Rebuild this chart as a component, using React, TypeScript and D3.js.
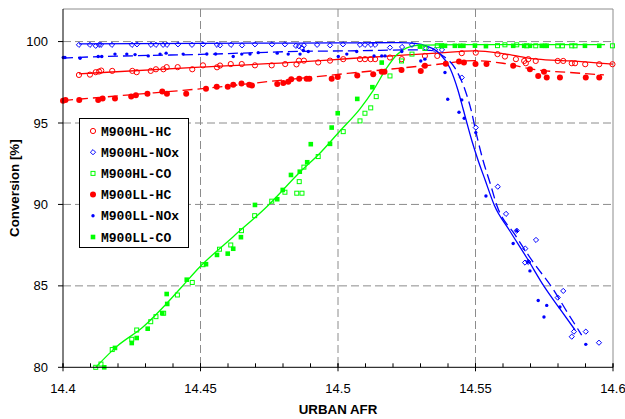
import React from "react";
import * as d3 from "d3";

// Conversion efficiency vs. urban air/fuel ratio for two M900 catalyst variants.
// Each series is a list of [AFR, conversion %] measurements.

const hlHc: [number, number][] = [
  [14.4058, 97.95], [14.4098, 97.97], [14.4119, 98.12], [14.4131, 98.16], [14.4139, 98.22],
  [14.4179, 98.2], [14.4252, 98.2], [14.4268, 98.12], [14.4319, 98.2], [14.4338, 98.3],
  [14.4365, 98.3], [14.4377, 98.43], [14.4417, 98.43], [14.447, 98.3], [14.4509, 98.54],
  [14.456, 98.42], [14.4571, 98.53], [14.461, 98.62], [14.465, 98.62], [14.4698, 98.54],
  [14.4759, 98.54], [14.4808, 98.62], [14.4849, 98.6], [14.4858, 98.83], [14.4876, 98.83],
  [14.4928, 98.72], [14.4971, 98.83], [14.5019, 98.92], [14.508, 98.92], [14.5098, 98.92],
  [14.5119, 98.92], [14.5135, 98.92], [14.5189, 99.02], [14.5232, 98.92], [14.5316, 99.12],
  [14.5361, 99.12], [14.545, 99.29], [14.5501, 99.32], [14.558, 99.23], [14.5607, 99.08],
  [14.5647, 98.92], [14.5677, 98.81], [14.5683, 98.67], [14.5692, 98.92], [14.5719, 98.81],
  [14.5799, 98.81], [14.5819, 98.81], [14.585, 98.67], [14.5862, 98.67], [14.5899, 98.61],
  [14.595, 98.61], [14.5998, 98.61],
];

const hlNox: [number, number][] = [
  [14.4058, 99.8], [14.4098, 99.8], [14.4119, 99.74], [14.4131, 99.8], [14.4138, 99.8],
  [14.4178, 99.8], [14.4251, 99.8], [14.4269, 99.83], [14.432, 99.8], [14.4338, 99.8],
  [14.4364, 99.8], [14.4378, 99.8], [14.4418, 99.83], [14.4469, 99.8], [14.4509, 99.83],
  [14.456, 99.8], [14.4571, 99.77], [14.4611, 99.8], [14.4651, 99.77], [14.4698, 99.83],
  [14.476, 99.83], [14.4807, 99.83], [14.4847, 99.74], [14.4858, 99.71], [14.4869, 99.61],
  [14.4876, 99.77], [14.4924, 99.8], [14.4971, 99.77], [14.5018, 99.83], [14.508, 99.8],
  [14.5098, 99.8], [14.512, 99.8], [14.5135, 99.8], [14.5189, 99.63], [14.5233, 99.67],
  [14.5269, 99.8], [14.532, 99.59], [14.5353, 99.49], [14.5378, 99.49], [14.545, 97.79],
  [14.5501, 94.72], [14.5581, 91.09], [14.5611, 89.42], [14.565, 88.39], [14.5681, 87.29],
  [14.572, 87.82], [14.568, 86.43], [14.5692, 86.47], [14.5799, 84.28], [14.5819, 84.69],
  [14.5858, 82.19], [14.585, 81.88], [14.5901, 82.19], [14.5949, 81.51],
];

const hlCo: [number, number][] = [
  [14.4119, 80.0], [14.4138, 80.2], [14.4179, 81.09], [14.425, 81.72], [14.4268, 82.29],
  [14.4319, 82.8], [14.4338, 83.11], [14.4366, 83.32], [14.4416, 84.44], [14.447, 85.21],
  [14.4509, 86.3], [14.4569, 87.25], [14.461, 87.51], [14.4649, 88.39], [14.4697, 89.31],
  [14.4759, 90.2], [14.4807, 90.75], [14.485, 90.69], [14.4859, 91.4], [14.4869, 90.69],
  [14.4876, 92.29], [14.4928, 92.94], [14.5019, 94.47], [14.508, 95.13], [14.5098, 95.6],
  [14.5119, 95.93], [14.5139, 96.62], [14.5189, 97.89], [14.5231, 98.81], [14.5269, 99.23],
  [14.5316, 99.58], [14.5361, 99.75], [14.5377, 99.74], [14.558, 99.75], [14.5607, 99.8],
  [14.565, 99.8], [14.5686, 99.74], [14.5719, 99.74], [14.5799, 99.74], [14.5816, 99.74],
  [14.585, 99.74], [14.5862, 99.74], [14.5998, 99.74],
];

const llHc: [number, number][] = [
  [14.4, 96.36], [14.4009, 96.42], [14.4059, 96.42], [14.4128, 96.42], [14.4144, 96.5],
  [14.4189, 96.51], [14.4248, 96.62], [14.4265, 96.7], [14.4307, 96.79], [14.4361, 96.93],
  [14.4378, 96.8], [14.4448, 96.8], [14.452, 97.11], [14.4559, 97.22], [14.4599, 97.23],
  [14.4619, 97.35], [14.4649, 97.43], [14.4677, 97.35], [14.4687, 97.3], [14.4779, 97.4],
  [14.4801, 97.46], [14.4819, 97.54], [14.483, 97.68], [14.4859, 97.71], [14.4886, 97.71],
  [14.4896, 97.71], [14.4977, 97.71], [14.4999, 97.83], [14.507, 97.91], [14.5128, 97.99],
  [14.5159, 98.14], [14.5169, 98.14], [14.5231, 98.26], [14.5301, 98.2], [14.5316, 98.51],
  [14.5392, 98.64], [14.544, 98.77], [14.5458, 98.72], [14.55, 98.62], [14.554, 98.62],
  [14.5637, 98.51], [14.5698, 98.3], [14.5728, 97.89], [14.5749, 98.14], [14.5759, 97.8],
  [14.5807, 97.8], [14.5901, 97.8], [14.595, 97.8],
];

const llNox: [number, number][] = [
  [14.4001, 99.02], [14.4007, 99.02], [14.4062, 98.98], [14.4128, 99.08], [14.4141, 99.08],
  [14.4189, 99.23], [14.4232, 99.23], [14.4262, 99.2], [14.431, 99.12], [14.4353, 99.23],
  [14.4375, 99.29], [14.4437, 99.23], [14.4523, 99.24], [14.4555, 99.24], [14.4619, 99.08],
  [14.465, 99.23], [14.468, 99.24], [14.471, 99.32], [14.4779, 99.29], [14.4819, 99.23],
  [14.4862, 99.23], [14.4874, 99.45], [14.4892, 99.39], [14.5001, 99.08], [14.5032, 99.23],
  [14.5068, 99.39], [14.5131, 99.12], [14.5159, 99.12], [14.5171, 99.12], [14.5232, 99.39],
  [14.5301, 98.81], [14.5316, 98.92], [14.5389, 98.1], [14.5399, 96.46], [14.544, 95.66],
  [14.545, 96.42], [14.5459, 95.29], [14.5501, 94.41], [14.5538, 90.52], [14.5637, 87.6],
  [14.565, 88.39], [14.569, 86.47], [14.5698, 85.92], [14.5728, 84.1], [14.5759, 83.8],
  [14.5749, 83.09], [14.5807, 83.7], [14.5901, 81.41],
];

const llCo: [number, number][] = [
  [14.415, 80.0], [14.4189, 81.19], [14.425, 81.49], [14.4268, 81.8], [14.4308, 82.37],
  [14.4361, 83.32], [14.4377, 84.5], [14.4379, 83.89], [14.445, 85.38], [14.452, 86.33],
  [14.456, 86.9], [14.4599, 86.98], [14.4619, 87.28], [14.4647, 87.99], [14.4698, 89.97],
  [14.4779, 90.32], [14.4799, 90.89], [14.4829, 91.81], [14.4861, 92.01], [14.4888, 92.59],
  [14.4901, 93.7], [14.4971, 93.72], [14.4977, 94.72], [14.4999, 95.6], [14.507, 96.48],
  [14.5125, 97.2], [14.5159, 98.71], [14.5298, 99.69], [14.5377, 99.74], [14.5389, 99.74],
  [14.5425, 99.74], [14.5444, 99.74], [14.5456, 99.74], [14.5498, 99.75], [14.5538, 99.72],
  [14.5637, 99.74], [14.5677, 99.74], [14.5698, 99.74], [14.5741, 99.74], [14.5753, 99.74],
  [14.5759, 99.74], [14.5898, 99.74], [14.595, 99.74],
];

// Fitted trend curves
const hlHcFit: [number, number][] = [
  [14.4058, 98.02], [14.4498, 98.43], [14.4862, 98.75], [14.5044, 98.96], [14.525, 99.18],
  [14.5371, 99.31], [14.5498, 99.43], [14.5589, 99.29], [14.5662, 99.08], [14.5724, 98.92],
  [14.5844, 98.81], [14.6, 98.61],
];

const llHcFit: [number, number][] = [
  [14.4, 96.38], [14.4244, 96.73], [14.4535, 97.16], [14.4789, 97.62], [14.5044, 98.06],
  [14.5345, 98.57], [14.5498, 98.83], [14.56, 98.67], [14.5724, 98.26], [14.5844, 98.1],
  [14.5967, 97.95],
];

const hlNoxFit: [number, number][] = [
  [14.4058, 99.86], [14.4498, 99.89], [14.4862, 99.91], [14.508, 99.92], [14.5225, 99.94],
  [14.528, 99.89], [14.5324, 99.71], [14.5371, 99.24], [14.5407, 98.38], [14.5436, 97.03],
  [14.5456, 95.8], [14.5486, 93.96], [14.5509, 92.73], [14.5535, 91.5], [14.5568, 89.97],
  [14.5625, 88.37], [14.5687, 86.71], [14.575, 84.95], [14.5807, 83.58], [14.5862, 82.29],
];

const llNoxFit: [number, number][] = [
  [14.4, 98.98], [14.4058, 99.03], [14.4316, 99.15], [14.4498, 99.21], [14.468, 99.31],
  [14.4862, 99.4], [14.5044, 99.43], [14.5153, 99.46], [14.5262, 99.49], [14.5335, 99.46],
  [14.5382, 99.12], [14.5425, 98.38], [14.5462, 97.03], [14.5484, 95.8], [14.5504, 94.27],
  [14.5527, 92.73], [14.5553, 91.32], [14.5577, 89.97], [14.5644, 88.13], [14.5709, 86.47],
  [14.5777, 84.93], [14.5833, 83.4], [14.5886, 81.98],
];

const coFit: [number, number][] = [
  [14.4119, 80.0], [14.4195, 81.27], [14.4292, 82.49], [14.4377, 83.92], [14.4434, 84.98],
  [14.4498, 86.17], [14.4619, 88.02], [14.4741, 89.86], [14.4862, 91.99], [14.4935, 93.16],
  [14.5007, 94.51], [14.508, 95.87], [14.5127, 96.97], [14.5177, 98.38], [14.5213, 99.18],
  [14.525, 99.61], [14.5298, 99.78], [14.5371, 99.8], [14.5589, 99.81], [14.5971, 99.81],
];

const xTicks = [14.4, 14.45, 14.5, 14.55, 14.6];
const xTickLabels = ["14.4", "14.45", "14.5", "14.55", "14.6"];
const yTicks = [80, 85, 90, 95, 100];
const legendNames = ["M900HL-HC", "M900HL-NOx", "M900HL-CO", "M900LL-HC", "M900LL-NOx", "M900LL-CO"];

const RED = "#ff0000";
const BLUE = "#0000ff";
const GREEN = "#00ff00";

const W = 625;
const H = 419;
const plot = { left: 63, right: 613, top: 9, bottom: 367.3 };

const x = d3.scaleLinear().domain([14.4, 14.6]).range([plot.left, plot.right]);
const y = d3.scaleLinear().domain([80, 102]).range([plot.bottom, plot.top]);

const line = d3
  .line<[number, number]>()
  .x((d) => x(d[0]))
  .y((d) => y(d[1]))
  .curve(d3.curveMonotoneX);

type Shape = "openCircle" | "openDiamond" | "openSquare" | "dot" | "smallDot" | "square";

function Marker({ cx, cy, shape, color }: { cx: number; cy: number; shape: Shape; color: string }) {
  switch (shape) {
    case "openCircle":
      return <circle cx={cx} cy={cy} r={2.6} fill="none" stroke={color} strokeWidth={1} />;
    case "openDiamond": {
      const s = 2.6;
      return (
        <path
          d={`M${cx},${cy - s}L${cx + s},${cy}L${cx},${cy + s}L${cx - s},${cy}Z`}
          fill="none"
          stroke={color}
          strokeWidth={1}
        />
      );
    }
    case "openSquare":
      return <rect x={cx - 2} y={cy - 2} width={4} height={4} fill="none" stroke={color} strokeWidth={1} />;
    case "dot":
      return <circle cx={cx} cy={cy} r={3} fill={color} />;
    case "smallDot":
      return <circle cx={cx} cy={cy} r={1.7} fill={color} />;
    case "square":
      return <rect x={cx - 2.3} y={cy - 2.3} width={4.6} height={4.6} fill={color} />;
  }
  return null;
}

const pointSeries: { data: [number, number][]; shape: Shape; color: string }[] = [
  { data: hlHc, shape: "openCircle", color: RED },
  { data: hlNox, shape: "openDiamond", color: BLUE },
  { data: hlCo, shape: "openSquare", color: GREEN },
  { data: llHc, shape: "dot", color: RED },
  { data: llNox, shape: "smallDot", color: BLUE },
  { data: llCo, shape: "square", color: GREEN },
];

const fitSeries: { data: [number, number][]; color: string; dashed: boolean }[] = [
  { data: hlHcFit, color: RED, dashed: false },
  { data: llHcFit, color: RED, dashed: true },
  { data: hlNoxFit, color: BLUE, dashed: false },
  { data: llNoxFit, color: BLUE, dashed: true },
  { data: coFit, color: GREEN, dashed: false },
];

const legendShapes: Shape[] = ["openCircle", "openDiamond", "openSquare", "dot", "smallDot", "square"];
const legendColors = [RED, BLUE, GREEN, RED, BLUE, GREEN];

export default function App() {
  const minorTicks = d3.range(14.4, 14.6001, 0.01);
  const gridX = xTicks.slice(1, -1);
  const gridY = yTicks.slice(1);

  return (
    <svg
      width={W}
      height={H}
      style={{ position: "absolute", left: 0, top: 0, background: "#ffffff" }}
      fontFamily="'Liberation Sans', Arial, sans-serif"
    >
      <rect x={0} y={0} width={W} height={H} fill="#ffffff" />

      {/* grid */}
      <g stroke="#8c8c8c" strokeWidth={1} strokeDasharray="8,4">
        {gridY.map((v) => (
          <line key={`gy${v}`} x1={plot.left} x2={plot.right} y1={y(v)} y2={y(v)} />
        ))}
        {gridX.map((v) => (
          <line key={`gx${v}`} x1={x(v)} x2={x(v)} y1={plot.top} y2={plot.bottom} />
        ))}
      </g>

      {/* frame */}
      <g stroke="#8c8c8c" strokeWidth={1}>
        <line x1={plot.left} x2={plot.right} y1={plot.top} y2={plot.top} />
        <line x1={plot.right} x2={plot.right} y1={plot.top} y2={plot.bottom} />
      </g>

      {/* trend curves */}
      <g fill="none" strokeWidth={1.3}>
        {fitSeries.map((s, i) => (
          <path
            key={`fit${i}`}
            d={line(s.data) ?? ""}
            stroke={s.color}
            strokeDasharray={s.dashed ? "10,5" : undefined}
          />
        ))}
      </g>

      {/* measured points */}
      {pointSeries.map((s, i) => (
        <g key={`pts${i}`}>
          {s.data.map((d, j) => (
            <Marker key={j} cx={x(d[0])} cy={y(d[1])} shape={s.shape} color={s.color} />
          ))}
        </g>
      ))}

      {/* axes */}
      <g stroke="#000000" strokeWidth={1}>
        <line x1={plot.left} x2={plot.left} y1={plot.top} y2={plot.bottom} />
        <line x1={plot.left} x2={plot.right} y1={plot.bottom} y2={plot.bottom} />
        {yTicks.map((v) => (
          <line key={`yt${v}`} x1={plot.left - 5} x2={plot.left} y1={y(v)} y2={y(v)} />
        ))}
        {minorTicks.map((v, i) => (
          <line key={`mt${i}`} x1={x(v)} x2={x(v)} y1={plot.bottom - 4} y2={plot.bottom} />
        ))}
        {xTicks.map((v) => (
          <line key={`xt${v}`} x1={x(v)} x2={x(v)} y1={plot.bottom - 4} y2={plot.bottom + 4} />
        ))}
      </g>

      <g fontSize={13} fill="#000000">
        {yTicks.map((v) => (
          <text key={`yl${v}`} x={48} y={y(v)} dy="0.35em" textAnchor="end">
            {v}
          </text>
        ))}
        {xTicks.map((v, i) => (
          <text key={`xl${v}`} x={x(v)} y={393} textAnchor="middle">
            {xTickLabels[i]}
          </text>
        ))}
      </g>

      <text
        x={338}
        y={414}
        textAnchor="middle"
        fontSize={13.3}
        fontWeight="bold"
        fill="#000000"
      >
        URBAN AFR
      </text>
      <text
        transform={`translate(18.5,${(plot.top + plot.bottom) / 2}) rotate(-90)`}
        textAnchor="middle"
        fontSize={13.3}
        fontWeight="bold"
        fill="#000000"
      >
        Conversion [%]
      </text>

      {/* legend */}
      <g>
        <rect x={79.5} y={118.5} width={109} height={129} fill="#ffffff" stroke="#000000" strokeWidth={1} />
        {legendNames.map((name, i) => {
          const cy = 131 + i * 21.2;
          return (
            <g key={name}>
              <Marker cx={93} cy={cy} shape={legendShapes[i]} color={legendColors[i]} />
              <text
                x={101}
                y={cy}
                dy="0.35em"
                fontFamily="'Liberation Mono', 'Courier New', monospace"
                fontWeight="bold"
                fontSize={13}
                fill="#000000"
              >
                {name}
              </text>
            </g>
          );
        })}
      </g>
    </svg>
  );
}
